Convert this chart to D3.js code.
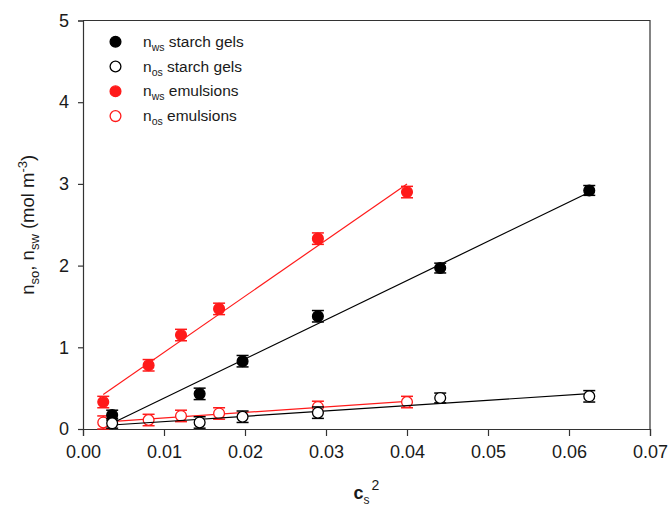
<!DOCTYPE html>
<html>
<head>
<meta charset="utf-8">
<script src="https://cdn.jsdelivr.net/npm/d3@7"></script>
<style>
  body { margin: 0; background: #fff; }
  text { font-family: "Liberation Sans", Arial, sans-serif; fill: #1a1a1a; }
</style>
</head>
<body>
<div id="chart"></div>
<script>
// c_s^2 values
const xGels = [0.0036, 0.0144, 0.0197, 0.0290, 0.0441, 0.0625];
const xEmul = [0.0025, 0.0081, 0.0121, 0.0168, 0.0290, 0.0400];

// n values (mol m^-3) and error bars
const nwsGels = [0.17, 0.43, 0.83, 1.38, 1.97, 2.92];
const nwsGelsErr = [0.06, 0.07, 0.07, 0.07, 0.06, 0.06];
const nosGels = [0.07, 0.08, 0.15, 0.20, 0.38, 0.40];
const nosGelsErr = [0.06, 0.07, 0.07, 0.07, 0.06, 0.07];
const nwsEmul = [0.33, 0.78, 1.15, 1.47, 2.33, 2.90];
const nwsEmulErr = [0.07, 0.07, 0.07, 0.07, 0.07, 0.07];
const nosEmul = [0.08, 0.11, 0.16, 0.19, 0.27, 0.33];
const nosEmulErr = [0.08, 0.07, 0.07, 0.07, 0.07, 0.07];

const xTicks = [0, 0.01, 0.02, 0.03, 0.04, 0.05, 0.06, 0.07];
const yTicks = [0, 1, 2, 3, 4, 5];

const width = 670, height = 507;
const margin = {top: 20.5, right: 20, bottom: 78, left: 83};

const svg = d3.select("#chart").append("svg")
    .attr("width", width)
    .attr("height", height);

const x = d3.scaleLinear().domain([0, 0.07]).range([margin.left, width - margin.right]);
const y = d3.scaleLinear().domain([0, 5]).range([height - margin.bottom, margin.top]);

// frame (top + right lines)
svg.append("path")
    .attr("d", `M${x(0)},${y(5)} H${x(0.07)} V${y(0)}`)
    .attr("fill", "none")
    .attr("stroke", "#333")
    .attr("stroke-width", 1.2);

// axes
const xAxis = svg.append("g")
    .attr("transform", `translate(0,${y(0)})`)
    .call(d3.axisBottom(x).tickValues(xTicks).tickFormat(d3.format(".2f")).tickSize(7).tickPadding(9));
const yAxis = svg.append("g")
    .attr("transform", `translate(${x(0)},0)`)
    .call(d3.axisLeft(y).tickValues(yTicks).tickFormat(d3.format("d")).tickSize(5).tickPadding(9));

[xAxis, yAxis].forEach(g => {
    g.select(".domain").attr("stroke", "#333").attr("stroke-width", 1.2);
    g.selectAll(".tick line").attr("stroke", "#333").attr("stroke-width", 1.2);
    g.selectAll(".tick text")
        .attr("font-size", "18px")
        .attr("font-family", "Liberation Sans, Arial, sans-serif")
        .attr("fill", "#1a1a1a");
});

// least-squares fit over a series
function fit(xs, ys) {
    const mx = d3.mean(xs), my = d3.mean(ys);
    const sxy = d3.sum(xs, (v, i) => (v - mx) * (ys[i] - my));
    const sxx = d3.sum(xs, v => (v - mx) * (v - mx));
    const b = sxy / sxx;
    const a = my - b * mx;
    const x0 = d3.min(xs), x1 = d3.max(xs);
    return [[x0, a + b * x0], [x1, a + b * x1]];
}

const line = d3.line().x(d => x(d[0])).y(d => y(d[1]));

function drawSeries(xs, ys, errs, color, filled) {
    const g = svg.append("g");
    g.append("path")
        .attr("d", line(fit(xs, ys)))
        .attr("fill", "none")
        .attr("stroke", color)
        .attr("stroke-width", 1.2);

    const pts = xs.map((v, i) => ({x: v, y: ys[i], e: errs[i]}));
    const eb = g.selectAll(".eb").data(pts).enter().append("g");
    eb.append("line")
        .attr("x1", d => x(d.x)).attr("x2", d => x(d.x))
        .attr("y1", d => y(d.y - d.e)).attr("y2", d => y(d.y + d.e))
        .attr("stroke", color).attr("stroke-width", 1.5);
    [-1, 1].forEach(s => {
        eb.append("line")
            .attr("x1", d => x(d.x) - 6).attr("x2", d => x(d.x) + 6)
            .attr("y1", d => y(d.y + s * d.e)).attr("y2", d => y(d.y + s * d.e))
            .attr("stroke", color).attr("stroke-width", 1.5);
    });

    g.selectAll(".pt").data(pts).enter().append("circle")
        .attr("cx", d => x(d.x))
        .attr("cy", d => y(d.y))
        .attr("r", 5.4)
        .attr("fill", filled ? color : "#fff")
        .attr("stroke", color)
        .attr("stroke-width", 1.3);
}

drawSeries(xEmul, nosEmul, nosEmulErr, "#ff1a1a", false);
drawSeries(xEmul, nwsEmul, nwsEmulErr, "#ff1a1a", true);
drawSeries(xGels, nwsGels, nwsGelsErr, "#000", true);
drawSeries(xGels, nosGels, nosGelsErr, "#000", false);

// legend
const legendItems = [
    {sub: "ws", label: " starch gels", color: "#000", filled: true},
    {sub: "os", label: " starch gels", color: "#000", filled: false},
    {sub: "ws", label: " emulsions", color: "#ff1a1a", filled: true},
    {sub: "os", label: " emulsions", color: "#ff1a1a", filled: false}
];
const legend = svg.append("g");
legendItems.forEach((d, i) => {
    const ly = 41.7 + i * 24.8;
    legend.append("circle")
        .attr("cx", 115.5).attr("cy", ly).attr("r", 5.4)
        .attr("fill", d.filled ? d.color : "#fff")
        .attr("stroke", d.color).attr("stroke-width", 1.3);
    const t = legend.append("text")
        .attr("x", 143).attr("y", ly + 5)
        .attr("font-size", "15.5px");
    t.append("tspan").text("n");
    t.append("tspan").attr("font-size", "10.5px").attr("dy", 4).text(d.sub);
    t.append("tspan").attr("dy", -4).text(d.label);
});

// y axis title
const yt = svg.append("text")
    .attr("transform", `translate(34,${(y(0) + y(5)) / 2}) rotate(-90)`)
    .attr("text-anchor", "middle")
    .attr("font-size", "18.5px");
yt.append("tspan").text("n");
yt.append("tspan").attr("font-size", "13px").attr("dy", 5).text("so");
yt.append("tspan").attr("dy", -5).text(", n");
yt.append("tspan").attr("font-size", "13px").attr("dy", 5).text("sw");
yt.append("tspan").attr("dy", -5).text(" (mol m");
yt.append("tspan").attr("font-size", "13px").attr("dy", -7).text("-3");
yt.append("tspan").attr("dy", 7).text(")");

// x axis title
const xt = svg.append("text")
    .attr("x", (x(0) + x(0.07)) / 2)
    .attr("y", 499)
    .attr("text-anchor", "middle")
    .attr("font-size", "18px")
    .attr("font-weight", "bold");
xt.append("tspan").text("c");
xt.append("tspan").attr("font-size", "12px").attr("font-weight", "normal").attr("dy", 5).text("s");
xt.append("tspan").attr("font-size", "14px").attr("font-weight", "normal").attr("dy", -14).attr("dx", 2).text("2");
</script>
</body>
</html>
